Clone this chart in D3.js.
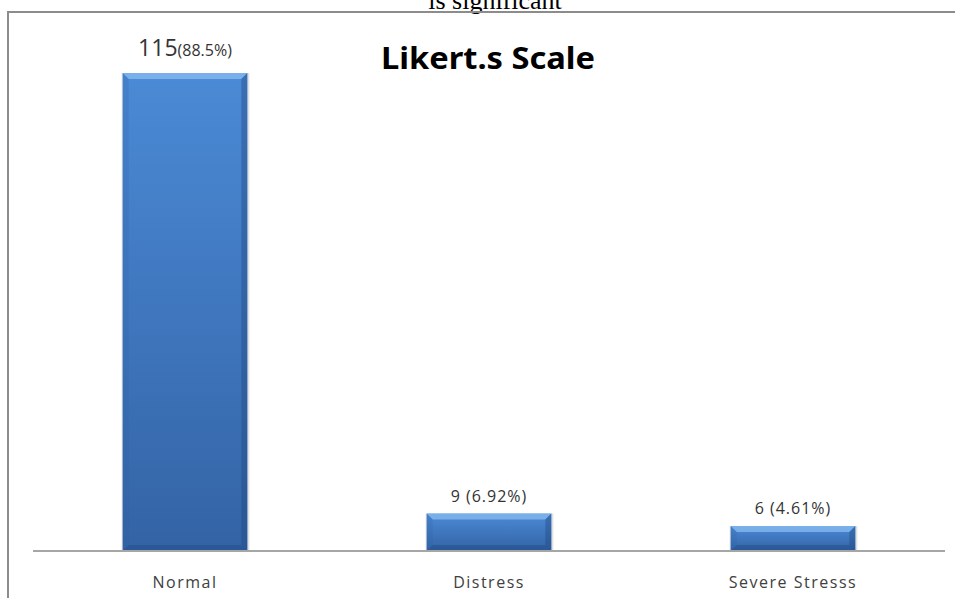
<!DOCTYPE html>
<html>
<head>
<meta charset="utf-8">
<script src="https://cdn.jsdelivr.net/npm/d3@7"></script>
<style>
  html, body { margin: 0; padding: 0; background: #fff; }
  svg { display: block; }
</style>
</head>
<body>
<svg id="chart" width="955" height="598"></svg>
<script>
// chart data
const categories = [ "Normal", "Distress", "Severe Stresss" ];
const counts = [ 115, 9, 6 ];
const countLabels = [ "115", "9 ", "6 " ];
const percentLabels = [ "(88.5%)", "(6.92%)", "(4.61%)" ];
const titleText = "Likert.s Scale";
const captionText = "is significant"; // tail of the caption above the figure

const W = 955, H = 598;
const plot = { left: 33, right: 945, top: 73, bottom: 551 }; // plot area
const bevel = 6;

const svg = d3.select( "#chart" );
const defs = svg.append( "defs" );

// vertical gradient used for the bar faces
const grad = defs.append( "linearGradient" )
    .attr( "id", "barFill" )
    .attr( "x1", 0 ).attr( "y1", 0 ).attr( "x2", 0 ).attr( "y2", 1 );
grad.append( "stop" ).attr( "offset", "0%" ).attr( "stop-color", "#4b8ad6" );
grad.append( "stop" ).attr( "offset", "100%" ).attr( "stop-color", "#3363a5" );

const x = d3.scaleBand()
    .domain( categories )
    .range( [ plot.left, plot.right ] )
    .paddingInner( 0.59 )
    .paddingOuter( 0.295 );

const y = d3.scaleLinear()
    .domain( [ 0, d3.max( counts ) ] )
    .range( [ plot.bottom, plot.top ] );

const rows = categories.map( ( c, i ) => ( { cat: c, value: counts[ i ], count: countLabels[ i ], pct: percentLabels[ i ] } ) );

// caption line cut off at the top of the picture
svg.append( "text" )
    .attr( "x", 495 ).attr( "y", 9 )
    .attr( "text-anchor", "middle" )
    .attr( "font-family", "Liberation Serif, Times New Roman, serif" )
    .attr( "font-size", 26 )
    .attr( "fill", "#000" )
    .text( captionText );

// chart frame (left and top edges are all that show)
svg.append( "path" )
    .attr( "d", `M8,${H} L8,12 L${W},12` )
    .attr( "fill", "none" )
    .attr( "stroke", "#8c8c8c" )
    .attr( "stroke-width", 2 );

// bars
const bars = svg.selectAll( ".bar" )
    .data( rows )
    .join( "g" )
    .attr( "class", "bar" );

bars.append( "rect" ) // soft shadow
    .attr( "x", d => x( d.cat ) - 1 )
    .attr( "y", d => y( d.value ) )
    .attr( "width", x.bandwidth() + 3 )
    .attr( "height", d => y( 0 ) - y( d.value ) )
    .attr( "fill", "#000" )
    .attr( "opacity", 0.12 );

bars.append( "rect" )
    .attr( "x", d => x( d.cat ) )
    .attr( "y", d => y( d.value ) )
    .attr( "width", x.bandwidth() )
    .attr( "height", d => y( 0 ) - y( d.value ) )
    .attr( "fill", "url(#barFill)" );

// bevel edges: top light, sides and bottom darker
const bevelPath = ( d, side ) =>
{
    const x0 = x( d.cat ), x1 = x0 + x.bandwidth();
    const y0 = y( d.value ), y1 = y( 0 );
    const b = Math.min( bevel, ( y1 - y0 ) / 2 );
    if ( side === "top" ) return `M${x0},${y0}L${x1},${y0}L${x1 - b},${y0 + b}L${x0 + b},${y0 + b}Z`;
    if ( side === "left" ) return `M${x0},${y0}L${x0 + b},${y0 + b}L${x0 + b},${y1 - b}L${x0},${y1}Z`;
    if ( side === "right" ) return `M${x1},${y0}L${x1},${y1}L${x1 - b},${y1 - b}L${x1 - b},${y0 + b}Z`;
    return `M${x0},${y1}L${x0 + b},${y1 - b}L${x1 - b},${y1 - b}L${x1},${y1}Z`;
};

bars.append( "path" ).attr( "d", d => bevelPath( d, "top" ) ).attr( "fill", "#8dc0f2" ).attr( "opacity", 0.7 );
bars.append( "path" ).attr( "d", d => bevelPath( d, "left" ) ).attr( "fill", "#2f5f9e" ).attr( "opacity", 0.2 );
bars.append( "path" ).attr( "d", d => bevelPath( d, "right" ) ).attr( "fill", "#1f4680" ).attr( "opacity", 0.4 );
bars.append( "path" ).attr( "d", d => bevelPath( d, "bottom" ) ).attr( "fill", "#1f4680" ).attr( "opacity", 0.4 );

// baseline axis
svg.append( "line" )
    .attr( "x1", plot.left ).attr( "x2", plot.right )
    .attr( "y1", y( 0 ) ).attr( "y2", y( 0 ) )
    .attr( "stroke", "#a6a6a6" )
    .attr( "stroke-width", 2 );

// category labels
svg.selectAll( ".cat" )
    .data( rows )
    .join( "text" )
    .attr( "class", "cat" )
    .attr( "x", d => x( d.cat ) + x.bandwidth() / 2 )
    .attr( "y", 588 )
    .attr( "text-anchor", "middle" )
    .attr( "font-family", "Open Sans, sans-serif" )
    .attr( "font-size", 16 )
    .attr( "letter-spacing", 1.5 )
    .attr( "fill", "#404040" )
    .text( d => d.cat );

// value labels
const vl = svg.selectAll( ".val" )
    .data( rows )
    .join( "text" )
    .attr( "class", "val" )
    .attr( "x", d => x( d.cat ) + x.bandwidth() / 2 )
    .attr( "y", ( d, i ) => i === 0 ? y( d.value ) - 17 : y( d.value ) - 12 )
    .attr( "text-anchor", "middle" )
    .attr( "font-family", "Open Sans, sans-serif" )
    .attr( "letter-spacing", ( d, i ) => i === 0 ? 0 : 1 )
    .attr( "fill", "#333" );

vl.append( "tspan" )
    .attr( "font-size", ( d, i ) => i === 0 ? 23 : 16 )
    .text( d => d.count );
vl.append( "tspan" )
    .attr( "font-size", 16 )
    .text( d => d.pct );

// title
svg.append( "text" )
    .attr( "x", 488 ).attr( "y", 69 )
    .attr( "text-anchor", "middle" )
    .attr( "font-family", "Noto Sans, sans-serif" )
    .attr( "font-weight", "bold" )
    .attr( "font-size", 31 )
    .attr( "textLength", 214 )
    .attr( "lengthAdjust", "spacingAndGlyphs" )
    .attr( "fill", "#000" )
    .text( titleText );
</script>
</body>
</html>
